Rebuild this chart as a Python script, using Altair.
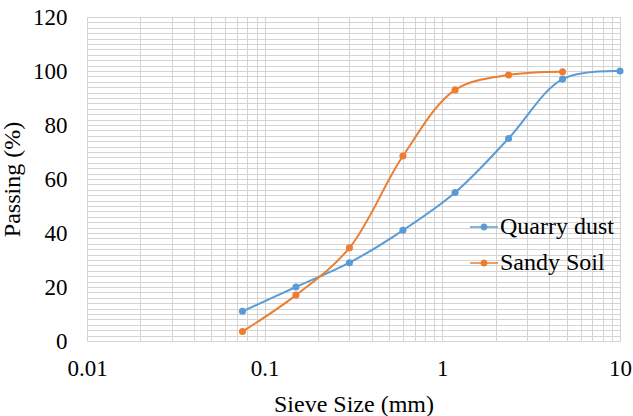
import altair as alt
import pandas as pd

sieve_qd = [0.075, 0.15, 0.3, 0.6, 1.18, 2.36, 4.75, 10]
pass_qd = [11, 20, 29, 41, 55, 75, 97, 100]
sieve_ss = [0.075, 0.15, 0.3, 0.6, 1.18, 2.36, 4.75]
pass_ss = [3.5, 17, 34.5, 68.5, 93, 98.5, 99.7]
series = ["Quarry dust", "Sandy Soil"]
colors = ["#5B9BD5", "#ED7D31"]

x_ticks = [m * d for d in [0.01, 0.1, 1] for m in range(1, 10)] + [10]
y_ticks = list(range(0, 121, 2))

df = pd.concat([
    pd.DataFrame({"size": sieve_qd, "pass": pass_qd, "series": series[0], "order": range(len(sieve_qd))}),
    pd.DataFrame({"size": sieve_ss, "pass": pass_ss, "series": series[1], "order": range(len(sieve_ss))}),
])

FONT = "Liberation Serif, Times New Roman, serif"

x = alt.X("size:Q", scale=alt.Scale(type="log", domain=[0.01, 10], nice=False),
          axis=alt.Axis(values=x_ticks, title="Sieve Size (mm)",
                        labelExpr="(datum.value == 0.01 || datum.value == 0.1 || datum.value == 1 || datum.value == 10) ? format(datum.value, '~g') : ''",
                        labelOverlap=False, labelFlush=False, ticks=False, domain=False,
                        labelPadding=16, titlePadding=12))
y = alt.Y("pass:Q", scale=alt.Scale(domain=[0, 120], nice=False),
          axis=alt.Axis(values=y_ticks, title="Passing (%)",
                        labelExpr="datum.value % 20 == 0 ? datum.value : ''",
                        labelOverlap=False, ticks=False, domain=False,
                        labelPadding=20, titlePadding=8))
color_scale = alt.Scale(domain=series, range=colors)

sym = ("M-1,-0.045L-0.2,-0.045L-0.2,0.045L-1,0.045Z "
       "M0.2,-0.045L1,-0.045L1,0.045L0.2,0.045Z "
       "M0.25,0A0.25,0.25,0,1,1,-0.25,0A0.25,0.25,0,1,1,0.25,0Z")

leg = alt.Legend(title=None, orient="none", legendX=383, legendY=196,
                 symbolType=sym, symbolSize=784, symbolStrokeWidth=0,
                 labelOffset=2, rowPadding=10)

line = alt.Chart(df).mark_line(interpolate="catmull-rom", strokeWidth=2).encode(
    x=x, y=y, order="order:O",
    color=alt.Color("series:N", scale=color_scale, legend=leg),
)
pts = alt.Chart(df).mark_point(filled=True, size=50, opacity=1).encode(
    x=x, y=y,
    color=alt.Color("series:N", scale=color_scale, legend=leg),
)

chart = alt.layer(line, pts).properties(
    width=533, height=324,
    autosize=alt.AutoSizeParams(type="none"),
    padding={"left": 87, "top": 17, "right": 13, "bottom": 75},
).configure_view(stroke="#d9d9d9", strokeWidth=1).configure_axis(
    grid=True, gridColor="#d4d4d4", gridWidth=1,
    labelFont=FONT, labelFontSize=23, labelColor="black",
    titleFont=FONT, titleFontSize=24, titleColor="black", titleFontWeight="normal",
).configure_legend(
    labelFont=FONT, labelFontSize=24, labelColor="black",
)

chart.save("out.html", embed_options={"renderer": "svg", "actions": False})
